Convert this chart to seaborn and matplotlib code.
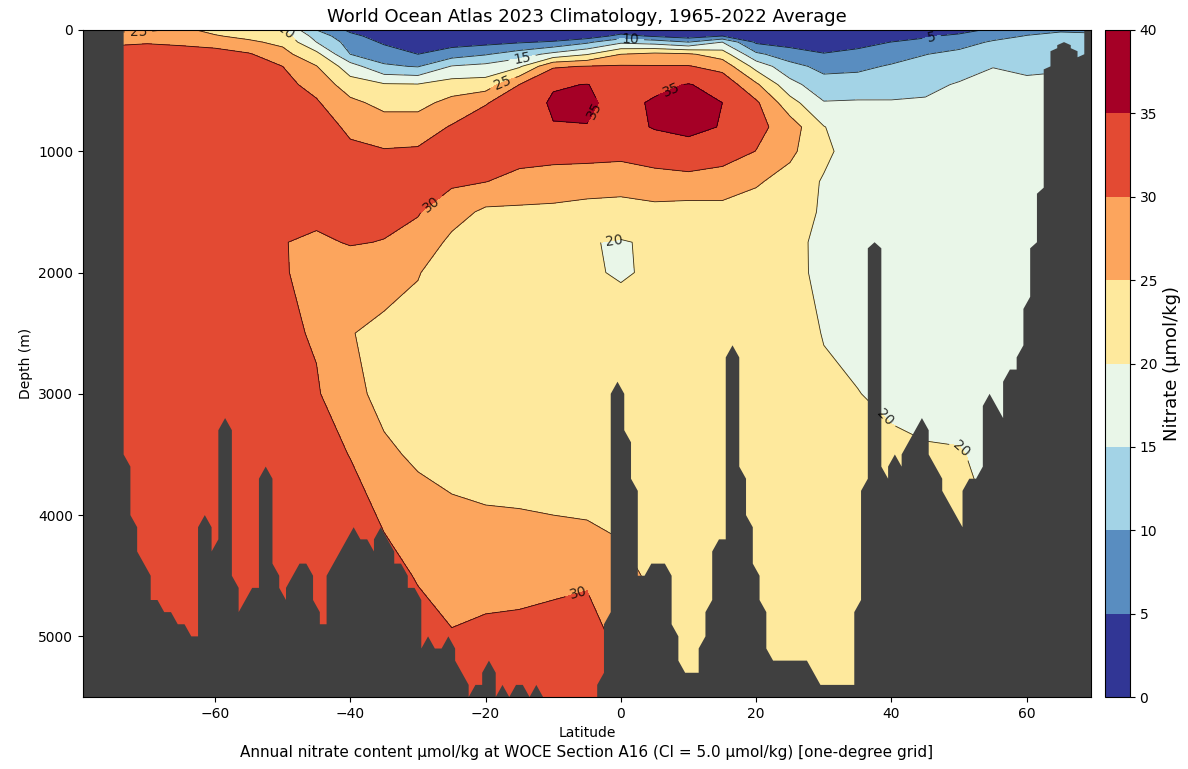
import numpy as np
import matplotlib
matplotlib.use("Agg")
import matplotlib.pyplot as plt
import seaborn as sns

# ---------------- data read off the section ----------------
# latitude columns of the nitrate field (deg N)
lat = [-80, -75, -70, -65, -60, -55, -50, -45, -40, -35, -30, -25, -20, -15, -10,
       -5, 0, 5, 10, 15, 20, 25, 30, 35, 40, 45, 50, 55, 60, 65, 70]
# depth levels of the nitrate field (m)
depth = [0, 50, 100, 200, 300, 450, 600, 800, 1000, 1250, 1500, 1750, 2000,
         2500, 3000, 3500, 4000, 4500, 5000, 5500]

# nitrate profiles (umol/kg), one list per latitude column, top to bottom
profiles = [
    [24, 27, 29.3, 31, 31.8, 32, 32, 32, 32, 32, 32, 32, 32, 32, 32, 32, 32, 32, 32, 32],               # -80
    [24, 27, 29.5, 31.2, 31.8, 32, 32, 32, 32, 32, 32, 32, 32, 32, 32, 32, 32, 32, 32, 32],             # -75
    [24.3, 26.8, 29.8, 31.3, 31.8, 32, 32, 32, 32, 32, 31.8, 31.6, 31.5, 31.5, 31.5, 31.5, 31.5, 31.5, 31.5, 31.5],
    [25.8, 28, 29.5, 31.2, 31.8, 32, 32, 32, 32, 32, 31.8, 31.6, 31.5, 31.5, 31.5, 31.5, 31.5, 31.5, 31.5, 31.5],
    [24, 25.3, 29, 31, 31.8, 32, 32, 32, 32, 32, 31.8, 31.5, 31.4, 31.3, 31.3, 31.3, 31.3, 31.3, 31.3, 31.3],
    [22.5, 24, 25.7, 30.5, 31.5, 32, 32, 32, 32, 31.8, 31.6, 31.3, 31.2, 31.2, 31.2, 31.2, 31.2, 31.2, 31.2, 31.2],
    [20.3, 22.5, 24, 26.5, 30, 31.3, 32, 32, 32, 31.6, 31, 30.1, 30.3, 31, 31.2, 31.3, 31.3, 31.3, 31.3, 31.3],
    [10, 13, 15, 21.5, 25.2, 28.5, 30.5, 31.5, 31.5, 31.3, 30.8, 29.5, 28.8, 29.5, 30.5, 31.3, 31.5, 31.5, 31.5, 31.5],
    [4, 6.3, 8, 10, 17.3, 22.2, 26.2, 29.4, 30.6, 31.3, 31, 30.2, 28.5, 25.2, 26.5, 29.9, 31.3, 31.5, 31.5, 31.5],
    [2, 2.8, 4.3, 7.5, 10.7, 20.5, 23.5, 27.5, 30.3, 31.2, 30.8, 29.9, 27.1, 23.8, 23.5, 25.9, 29.6, 31, 31.5, 31.5],
    [1.5, 2.5, 3.5, 5, 9.7, 20.3, 23.5, 27.5, 30.6, 31.3, 30.3, 28.5, 25.3, 23, 22.5, 24.2, 27, 29.8, 31, 31.5],
    [1.2, 1.8, 3, 7.5, 15.3, 22.2, 26.5, 30.4, 31.5, 30.8, 27.2, 23.8, 22, 21.5, 21.8, 23.5, 25.8, 28.2, 30.3, 31],
    [1, 1.5, 3.5, 9.6, 16.5, 22.3, 29.7, 32.5, 31.5, 30.1, 24, 21.8, 21, 21, 21.5, 22.5, 25.5, 28.3, 31, 31.5],
    [1, 1.5, 4.5, 12.5, 19.3, 30, 32.5, 33, 32, 28.5, 24, 21.5, 20.5, 20.5, 21, 22.5, 25.3, 28.5, 31.2, 31.5],
    [1, 1.8, 5.5, 16.5, 29.5, 34.6, 35.6, 34.8, 32, 27.5, 24, 21.5, 20.5, 20.8, 21.5, 22.8, 25, 29, 31.5, 32],
    [1, 2, 9, 19.7, 30.2, 35.1, 35.6, 34.9, 32, 27, 23.5, 20.2, 20.5, 21, 21.5, 22.8, 24.6, 29.5, 31.5, 32],
    [1.5, 6.6, 14, 25, 30.5, 33.5, 33.8, 33.5, 31.5, 27, 23, 19.7, 19.6, 22, 21.5, 22.5, 24, 26.5, 29, 30],
    [1.5, 4.3, 12.7, 26.4, 30.3, 34, 35.5, 35.3, 32.5, 28, 23.5, 20.6, 20.6, 21, 21.5, 22, 23, 24, 24.5, 25],
    [1.5, 2.5, 10, 25.7, 30.3, 35.2, 36.5, 36, 33.5, 28.3, 23, 21, 20.6, 21, 21.5, 22, 22.5, 23, 23.5, 24],
    [1.5, 5, 15, 22.6, 28.2, 33.5, 35, 34.8, 32.5, 27.5, 23.5, 21.5, 21, 21.3, 21.7, 22, 22.3, 22.5, 22.8, 23],
    [1, 2.2, 4.2, 11, 18.2, 25.8, 30.8, 31.5, 29.9, 25.5, 23, 21.5, 21, 21.2, 21.5, 21.7, 22, 22.2, 22.5, 22.7],
    [0.5, 1.5, 3, 7.4, 11.6, 16.7, 21.9, 27.5, 26, 23.3, 21.8, 20.8, 20.6, 21, 21.3, 21.4, 21.5, 21.6, 21.7, 21.8],
    [0.5, 1.5, 3, 5.2, 8.6, 11.9, 15.3, 20.2, 21.3, 19.5, 19.5, 19.3, 19.5, 19.9, 20.4, 20.7, 21, 21, 21, 21],
    [0.8, 2.5, 3.8, 6, 8.9, 12.3, 15.5, 16.5, 17, 17.3, 17.6, 17.9, 18.3, 19.5, 20.05, 20.5, 21, 21.3, 21.5, 21.5],
    [0.8, 3, 5.05, 7.9, 10.5, 13.4, 15.3, 16.5, 17, 17.3, 17.5, 17.8, 18, 18.8, 19.6, 20.4, 21, 21.3, 21.5, 21.5],
    [0.5, 4.4, 6.2, 9.9, 11.5, 13.9, 15.5, 16.5, 17, 17.3, 17.5, 17.7, 17.9, 18.5, 19.3, 20.2, 21, 21.3, 21.5, 21.5],
    [3, 6.1, 8.3, 11.1, 12.9, 15.4, 16.8, 17.3, 17.6, 17.8, 18, 18.2, 18.4, 18.8, 19.4, 20.1, 20.8, 21, 21, 21],
    [6, 8.5, 10.5, 12.3, 14.9, 16.2, 16.8, 17.3, 17.6, 17.8, 18, 18.2, 18.4, 18.8, 19.3, 19.6, 19.8, 20, 20, 20],
    [8.5, 10.2, 11, 12.5, 14, 16, 17, 17.5, 17.8, 18, 18.2, 18.4, 18.6, 19, 19.3, 19.5, 19.6, 19.7, 19.7, 19.7],
    [9.5, 11, 12, 13, 14.5, 16, 17, 17.5, 17.8, 18, 18.2, 18.4, 18.6, 19, 19.3, 19.5, 19.6, 19.7, 19.7, 19.7],
    [9, 11, 12, 13, 14.5, 16, 17, 17.5, 17.8, 18, 18.2, 18.4, 18.6, 19, 19.3, 19.5, 19.6, 19.7, 19.7, 19.7],
]

# one-degree grid columns and the deepest valid level of each (0 = no ocean)
grid_lat = np.arange(-79.5, 70, 1.0)
bottom = [
    0, 0, 0, 0, 0, 0,
    3500, 4000, 4300, 4400, 4700, 4700, 4800, 4800, 4900, 4900,
    5000, 5000, 4000, 4300, 4200, 3200, 4500, 4900, 4700, 4600,
    4600, 3600, 4400, 4600, 4700, 4500, 4400, 4400, 4700, 4900,
    4900, 4400, 4300, 4200, 4100, 4200, 4200, 4300, 4100, 4200,
    4400, 4400, 4600, 4600, 5100, 5000, 5100, 5100, 5000, 5200,
    5300, 5500, 5400, 5400, 5200, 5500, 5400, 5500, 5400, 5400,
    5500, 5400, 5500, 5500, 5500, 5500, 5500, 5500, 5500, 5500,
    5500, 5300, 4800, 2900, 3300, 3700, 4500, 4500, 4400, 4400,
    4400, 4900, 5200, 5300, 5300, 5300, 5000, 4700, 4200, 4200,
    2600, 3600, 4000, 4400, 4700, 5100, 5200, 5200, 5200, 5200,
    5200, 5200, 5300, 5400, 5400, 5400, 5400, 5400, 5400, 4700,
    3700, 1750, 3600, 3700, 3500, 3600, 3400, 3300, 3200, 3500,
    3600, 3800, 3900, 4000, 4100, 3700, 3700, 3600, 3000, 3100,
    3200, 2800, 2800, 2600, 2200, 1750, 1300, 300, 150, 100,
    150, 250, 200, 0,
]

# standard depth levels of the grid
std_levels = np.r_[np.arange(0, 100, 5), np.arange(100, 500, 25),
                   np.arange(500, 2000, 50), np.arange(2000, 5501, 100)]

# where the contour labels sit (lat, depth)
label_pos = [(-71.3, 22), (-50.2, 50), (1.4, 66), (45.9, 50), (-14.6, 230),
             (-17.5, 430), (-5.3, 618), (7.3, 478), (-27.7, 1460), (-1.1, 1705),
             (-6.4, 4613), (40.2, 3130), (49.6, 3485)]

levels = np.arange(0, 45, 5)


def next_level(d):
    if d < 0:
        return d + 50
    i = np.searchsorted(std_levels, d, side="right")
    return std_levels[min(i, len(std_levels) - 1)]


def land_outline(xs, floor):
    # outline of the masked cells as contourf draws them (corner masking)
    px, py = [xs[0]], [6000]
    for i in range(len(xs) - 1):
        a, b = floor[i], floor[i + 1]
        if a == b:
            px += [xs[i], xs[i + 1]]; py += [a, b]
        elif a < b:
            px += [xs[i], xs[i + 1]]; py += [a, min(next_level(a), b)]
        else:
            px += [xs[i], xs[i + 1]]; py += [min(next_level(b), a), b]
    px += [xs[-1]]; py += [6000]
    return px, py


# ---------------- plot ----------------
sns.set_style("ticks", {"axes.edgecolor": "black", "xtick.color": "black",
                        "ytick.color": "black", "text.color": "black",
                        "axes.labelcolor": "black"})
plt.rcParams["font.family"] = ["DejaVu Sans"]

fig = plt.figure(figsize=(11.88, 7.69), dpi=100)
ax = fig.add_axes([0.0699, 0.0936, 0.8485, 0.8674])
cax = fig.add_axes([0.930, 0.0936, 0.021, 0.8674])

cmap = plt.get_cmap("RdYlBu_r", 8)
Z = np.array(profiles).T
cf = ax.contourf(lat, depth, Z, levels=levels, cmap=cmap, zorder=1)
cs = ax.contour(lat, depth, Z, levels=levels[1:-1], colors="k",
                linewidths=0.6, alpha=0.8, zorder=1.5)

floor = np.where(np.array(bottom) > 0, bottom, -100)
px, py = land_outline(grid_lat, floor)
ax.fill(px, py, color="#404040", lw=0, zorder=2)

ax.set_xlim(-79.5, 69.5)
ax.set_ylim(5500, 0)
ax.set_xticks([-60, -40, -20, 0, 20, 40, 60])
ax.set_yticks([0, 1000, 2000, 3000, 4000, 5000])
ax.clabel(cs, fmt="%d", fontsize=10, manual=label_pos, inline=True)

ax.set_title("World Ocean Atlas 2023 Climatology, 1965-2022 Average", fontsize=13)
ax.set_xlabel("Latitude", fontsize=10)
ax.set_ylabel("Depth (m)", fontsize=10)
fig.text(0.494, 0.016,
         "Annual nitrate content µmol/kg at WOCE Section A16 (CI = 5.0 µmol/kg) [one-degree grid]",
         ha="center", fontsize=11)

cbar = fig.colorbar(cf, cax=cax, ticks=levels)
cbar.set_label("Nitrate (µmol/kg)", fontsize=13)

plt.savefig("out.png", dpi=100)
